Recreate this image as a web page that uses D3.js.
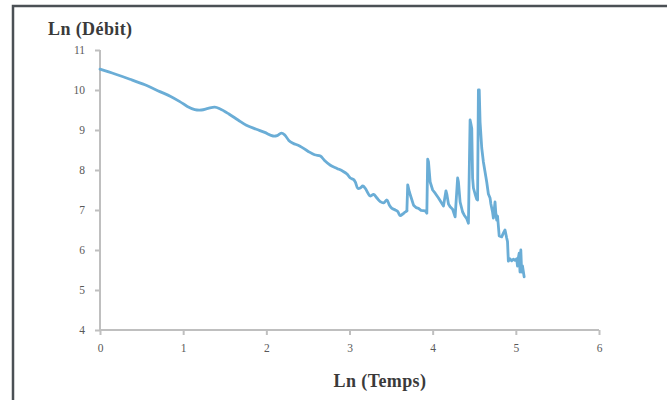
<!DOCTYPE html>
<html>
<head>
<meta charset="utf-8">
<script src="https://cdn.jsdelivr.net/npm/d3@7"></script>
<style>
html,body{margin:0;padding:0;background:#fff;}
svg{display:block;}
</style>
</head>
<body>
<script>
const lnTemps = [0.00,0.18,0.36,0.54,0.72,0.85,0.96,1.05,1.14,1.22,1.30,1.38,1.44,1.55,1.66,1.76,1.88,1.98,2.08,2.13,2.18,2.22,2.27,2.32,2.40,2.50,2.58,2.65,2.70,2.77,2.85,2.92,2.97,3.01,3.05,3.07,3.10,3.13,3.16,3.19,3.25,3.29,3.33,3.37,3.41,3.45,3.48,3.51,3.55,3.58,3.61,3.64,3.67,3.69,3.70,3.72,3.74,3.77,3.80,3.83,3.86,3.91,3.93,3.94,3.95,3.97,4.00,4.03,4.07,4.10,4.13,4.16,4.17,4.19,4.21,4.24,4.27,4.30,4.31,4.33,4.36,4.38,4.41,4.43,4.45,4.46,4.47,4.48,4.49,4.51,4.53,4.54,4.55,4.56,4.57,4.59,4.61,4.63,4.65,4.67,4.69,4.70,4.72,4.73,4.75,4.76,4.77,4.78,4.80,4.83,4.85,4.87,4.89,4.90,4.91,4.93,4.95,4.97,4.99,5.01,5.02,5.03,5.04,5.05,5.06,5.07,5.08,5.10];
const lnDebit = [10.52,10.40,10.27,10.13,9.96,9.84,9.71,9.59,9.51,9.50,9.54,9.57,9.53,9.40,9.25,9.12,9.02,8.94,8.85,8.86,8.92,8.88,8.74,8.67,8.60,8.47,8.38,8.35,8.24,8.12,8.04,7.97,7.90,7.80,7.76,7.70,7.54,7.55,7.60,7.54,7.35,7.39,7.30,7.21,7.18,7.25,7.12,7.04,7.00,6.96,6.86,6.90,6.95,6.98,7.63,7.45,7.32,7.12,7.06,7.04,6.99,6.98,6.92,8.27,8.20,7.70,7.50,7.42,7.30,7.20,7.10,7.48,7.40,7.15,7.08,7.02,6.83,7.80,7.70,7.20,6.95,6.87,6.78,6.67,9.25,9.15,9.04,7.80,7.55,7.40,7.27,7.25,10.00,10.00,9.20,8.55,8.20,7.95,7.70,7.40,7.30,7.15,6.95,6.80,7.20,6.90,6.75,6.85,6.35,6.33,6.42,6.50,6.30,6.21,5.72,5.78,5.73,5.77,5.74,5.78,5.60,5.80,5.92,5.45,6.00,5.45,5.60,5.33];
const xTicks = [0,1,2,3,4,5,6];
const yTicks = [4,5,6,7,8,9,10,11];
const xTitle = "Ln (Temps)";
const yTitle = "Ln (Débit)";

const W = 667, H = 400;
const svg = d3.select("body").append("svg").attr("width", W).attr("height", H);

// outer frame
svg.append("rect").attr("x", 13).attr("y", 6).attr("width", 670).attr("height", 420)
  .attr("fill", "none").attr("stroke", "#4b5055").attr("stroke-width", 2.5);

const x = d3.scaleLinear().domain([0, 6]).range([100, 599]);
const y = d3.scaleLinear().domain([4, 11]).range([330, 50]);

const axisColor = "#bfbfbf";
const textColor = "#595959";
const font = "'Liberation Serif', 'DejaVu Serif', serif";

const gx = svg.append("g").attr("transform", "translate(0,330)")
  .call(d3.axisBottom(x).tickValues(xTicks).tickFormat(d3.format("d")).tickSize(5).tickPadding(9));
const gy = svg.append("g").attr("transform", "translate(100,0)")
  .call(d3.axisLeft(y).tickValues(yTicks).tickFormat(d3.format("d")).tickSize(5).tickPadding(10));

[gx, gy].forEach(g => {
  g.select(".domain").attr("stroke", axisColor).attr("stroke-width", 2);
  g.selectAll(".tick line").attr("stroke", axisColor).attr("stroke-width", 2);
  g.selectAll(".tick text").attr("fill", textColor).style("font-family", font).style("font-size", "11.5px");
});
gy.select(".domain").attr("d", "M0,50V330");
gx.select(".domain").attr("d", "M100,0H599");

const idx = d3.range(lnTemps.length);
const splitAt = 54; // smooth part ends where spikes begin
const smoothLine = d3.line().curve(d3.curveCatmullRom.alpha(0.5))
  .x(i => x(lnTemps[i])).y(i => y(lnDebit[i]));
const sharpLine = d3.line().x(i => x(lnTemps[i])).y(i => y(lnDebit[i]));
const lineStyle = p => p.attr("fill", "none").attr("stroke", "#6aadd6").attr("stroke-width", 2.8)
  .attr("stroke-linejoin", "round").attr("stroke-linecap", "round");
svg.append("path").datum(idx.slice(0, splitAt)).attr("d", smoothLine).call(lineStyle);
svg.append("path").datum(idx.slice(splitAt - 1)).attr("d", sharpLine).call(lineStyle);

svg.append("text").attr("x", 48).attr("y", 35).text(yTitle)
  .attr("fill", "#3a3a3a").style("font-family", font).style("font-weight", "bold")
  .style("font-size", "18px").style("letter-spacing", "0.4px");
svg.append("text").attr("x", 380).attr("y", 387).attr("text-anchor", "middle").text(xTitle)
  .attr("fill", "#3a3a3a").style("font-family", font).style("font-weight", "bold")
  .style("font-size", "18px").style("letter-spacing", "0.4px");
</script>
</body>
</html>
